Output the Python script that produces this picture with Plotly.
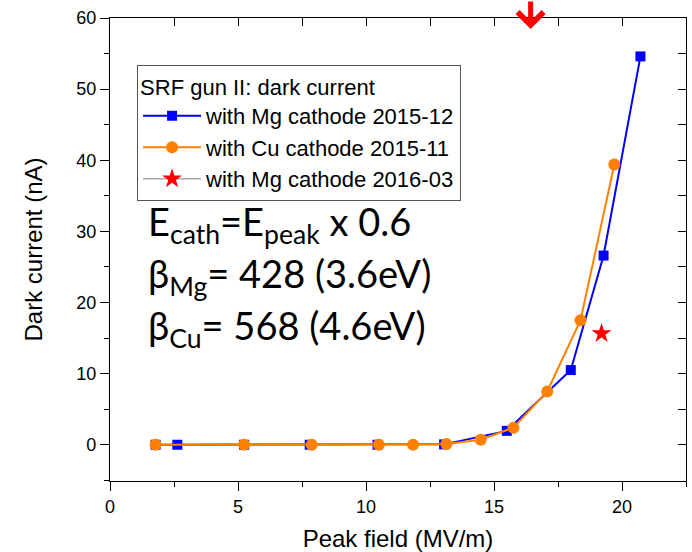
import plotly.graph_objects as go

# Data
mg_x = [1.78, 2.63, 5.24, 7.80, 10.45, 13.05, 15.5, 18.0, 19.28, 20.72]
mg_y = [0.0, 0.0, 0.0, 0.0, 0.0, 0.05, 1.95, 10.5, 26.6, 54.6]
cu_x = [1.78, 5.24, 7.88, 10.5, 11.84, 13.14, 14.48, 15.76, 17.08, 18.38, 19.7]
cu_y = [0.0, 0.0, 0.0, 0.0, 0.0, 0.1, 0.7, 2.4, 7.5, 17.5, 39.4]
mg16_x = [19.2]
mg16_y = [15.65]
arrow_x = 16.43

legend_title = "SRF gun II: dark current"
names = ["with Mg cathode 2015-12", "with Cu cathode 2015-11", "with Mg cathode 2016-03"]

BLUE = "#0000FF"
ORANGE = "#FF8000"
RED = "#FF0000"
GREY = "#808080"

fig = go.Figure()
fig.add_trace(go.Scatter(x=mg_x, y=mg_y, name=names[0], mode="lines+markers",
                         line=dict(color=BLUE, width=2),
                         marker=dict(symbol="square", size=10, color=BLUE)))
fig.add_trace(go.Scatter(x=cu_x, y=cu_y, name=names[1], mode="lines+markers",
                         line=dict(color=ORANGE, width=2),
                         marker=dict(symbol="circle", size=12, color=ORANGE)))
fig.add_trace(go.Scatter(x=mg16_x, y=mg16_y, name=names[2], mode="lines+markers",
                         line=dict(color=GREY, width=1),
                         marker=dict(symbol="star", size=15, color=RED)))
# empty trace to activate the mirrored (top/right) axes
fig.add_trace(go.Scatter(x=[], y=[], xaxis="x2", yaxis="y2", showlegend=False))

FONT = "Liberation Sans, Arial"
tickfont = dict(family=FONT, size=18, color="#000000")
XR = [0, 22.5]
YR = [-5.1, 60]
fig.update_layout(
    width=692, height=552,
    margin=dict(l=110, r=6, t=18, b=71),
    paper_bgcolor="white", plot_bgcolor="white",
    showlegend=True,
    xaxis=dict(range=XR, tick0=0, dtick=5, ticks="outside", ticklen=9, automargin=False,
               tickwidth=1.3, tickcolor="black", showline=True, linecolor="black",
               linewidth=1.3, showgrid=False, zeroline=False, tickfont=tickfont,
               minor=dict(dtick=2.5, ticks="outside", ticklen=5, tickcolor="black", tickwidth=1.3),
               title=dict(text="Peak field (MV/m)", standoff=15,
                          font=dict(family=FONT, size=24, color="black"))),
    yaxis=dict(range=YR, tick0=0, dtick=10, ticks="outside", ticklen=9, automargin=False,
               tickwidth=1.3, tickcolor="black", showline=True, linecolor="black",
               linewidth=1.3, showgrid=False, zeroline=False, tickfont=tickfont,
               minor=dict(dtick=5, ticks="outside", ticklen=5, tickcolor="black", tickwidth=1.3),
               title=dict(text="Dark current (nA)", standoff=26,
                          font=dict(family=FONT, size=24, color="black"))),
    xaxis2=dict(overlaying="x", side="top", matches="x", range=XR, tick0=0, dtick=2.5,
                ticks="inside", ticklen=8, tickwidth=1.3, tickcolor="black", automargin=False,
                showticklabels=False, showline=True, linecolor="black", linewidth=1.3,
                showgrid=False, zeroline=False),
    yaxis2=dict(overlaying="y", side="right", range=YR, tick0=0, dtick=5,
                ticks="inside", ticklen=8, tickwidth=1.3, tickcolor="black", automargin=False,
                showticklabels=False, showline=True, linecolor="black", linewidth=1.3,
                showgrid=False, zeroline=False),
    legend=dict(x=0.047, y=0.898, xanchor="left", yanchor="top",
                bordercolor="#555555", borderwidth=1, bgcolor="white",
                font=dict(family=FONT, size=22, color="black"),
                title=dict(text=legend_title,
                           font=dict(family=FONT, size=22, color="black")),
                itemwidth=58, tracegroupgap=0),
)

big = dict(family="Lato, Open Sans", size=38, color="black")
lines = ["E<sub>cath</sub>=E<sub>peak</sub> x 0.6",
         "β<sub>Mg</sub>= 428 (3.6eV)",
         "β<sub>Cu</sub>= 568 (4.6eV)"]
ypos = [0.555, 0.442, 0.33]
for t, yy in zip(lines, ypos):
    fig.add_annotation(text=t, xref="paper", yref="paper", x=0.062, y=yy,
                       xanchor="left", yanchor="middle", showarrow=False, font=big)

fig.add_annotation(x=arrow_x, y=0.976, xref="x", yref="paper", ax=0, ay=-40,
                   axref="pixel", ayref="pixel", showarrow=True, arrowhead=4,
                   arrowsize=1.0, arrowwidth=5, arrowcolor=RED, text="")

fig.write_html("out.html")
